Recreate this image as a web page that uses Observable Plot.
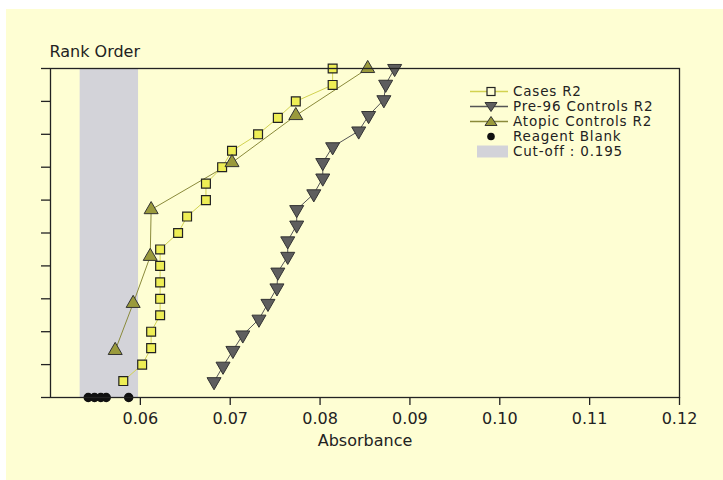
<!DOCTYPE html>
<html>
<head>
<meta charset="utf-8">
<script src="https://cdn.jsdelivr.net/npm/d3@7"></script>
<script src="https://cdn.jsdelivr.net/npm/@observablehq/plot@0.6"></script>
<style>
  html, body { margin: 0; padding: 0; background: #ffffff; }
  #wrap { position: absolute; left: 6px; top: 9px; width: 717px; height: 471px; background: #fefed3; }
  #legend { position: absolute; left: 0; top: 0; font-family: "DejaVu Sans", sans-serif; font-size: 13.5px; color: #222; letter-spacing: 0.8px; }
  .row { position: absolute; height: 15px; display: flex; align-items: center; white-space: nowrap; }
  .row svg { flex: none; display: block; }
  .row span { display: block; margin-left: 5px; height: 15px; line-height: 15px; overflow: visible; }
</style>
</head>
<body>
<div id="wrap"><div id="chart"></div><div id="legend"></div></div>
<script>
// ---- data ----
const casesX = [0.0581, 0.0602, 0.0612, 0.0612, 0.0622, 0.0622, 0.0622, 0.0622, 0.0622, 0.0642,
                0.0652, 0.0673, 0.0673, 0.0691, 0.0702, 0.0731, 0.0753, 0.0773, 0.0814, 0.0814];
const casesRank = [0.5, 1, 1.5, 2, 2.5, 3, 3.5, 4, 4.5, 5, 5.5, 6, 6.5, 7, 7.5, 8, 8.5, 9, 9.5, 10];

const pre96X = [0.0682, 0.0692, 0.0703, 0.0714, 0.0732, 0.0742, 0.0752, 0.0753, 0.0764, 0.0764,
                0.0774, 0.0774, 0.0793, 0.0803, 0.0803, 0.0814, 0.0843, 0.0854, 0.0871, 0.0873, 0.0883];
const pre96Rank = [0.48, 0.95, 1.43, 1.90, 2.38, 2.86, 3.33, 3.81, 4.29, 4.76,
                   5.24, 5.71, 6.19, 6.67, 7.14, 7.62, 8.10, 8.57, 9.05, 9.52, 10];

const atopicX = [0.0572, 0.0592, 0.0611, 0.0612, 0.0702, 0.0773, 0.0853];
const atopicRank = [1.43, 2.86, 4.29, 5.71, 7.14, 8.57, 10];

const blankX = [0.0542, 0.0549, 0.0556, 0.0562, 0.0587];
const blankRank = [0, 0, 0, 0, 0];

const cutoffRange = [0.0533, 0.0598];

const xTicks = [0.06, 0.07, 0.08, 0.09, 0.10, 0.11, 0.12];
const yTicks = [0, 1, 2, 3, 4, 5, 6, 7, 8, 9, 10];

const seriesNames = ["Cases R2", "Pre-96 Controls R2", "Atopic Controls R2", "Reagent Blank", "Cut-off : 0.195"];

// ---- styles ----
const bg = "#fefed3";
const ink = "#222222";
const casesFill = "#eeee55", casesLine = "#d2d250";
const preFill = "#5e5e5e", preLine = "#555555";
const atoFill = "#9a9a3c", atoLine = "#8a8a3a";
const bandFill = "#d3d3d9";
const font = '"DejaVu Sans", sans-serif';

const toRows = (xs, rs) => xs.map((x, i) => ({x, r: rs[i]}));
const cases = toRows(casesX, casesRank);
const pre96 = toRows(pre96X, pre96Rank);
const atopic = toRows(atopicX, atopicRank);
const blank = toRows(blankX, blankRank);

const plot = Plot.plot({
  width: 717,
  height: 471,
  marginLeft: 44,
  marginRight: 44,
  marginTop: 59,
  marginBottom: 83,
  x: {domain: [0.05, 0.12]},
  y: {domain: [0, 10]},
  style: {background: bg, color: ink, fontFamily: font, fontSize: "16px", overflow: "visible"},
  marks: [
    Plot.rect([cutoffRange], {x1: d => d[0], x2: d => d[1], fill: bandFill}),
    Plot.axisY({ticks: yTicks, tickSize: 9, tickFormat: () => "", label: null, stroke: ink, strokeWidth: 1.3}),
    Plot.axisX({ticks: xTicks, tickSize: 8, tickPadding: 7, tickFormat: d3.format(".2f"), label: null, stroke: ink, strokeWidth: 1.3, fontSize: 16, letterSpacing: 0.6}),
    Plot.line(cases, {x: "x", y: "r", stroke: casesLine, strokeWidth: 1}),
    Plot.line(atopic, {x: "x", y: "r", stroke: atoLine, strokeWidth: 1}),
    Plot.line(pre96, {x: "x", y: "r", stroke: preLine, strokeWidth: 1}),
    Plot.dot(cases, {x: "x", y: "r", symbol: "square", r: 5, fill: casesFill, stroke: ink, strokeWidth: 1.2}),
    Plot.dot(pre96, {x: "x", y: "r", symbol: "triangle", rotate: 180, r: 5.2, fill: preFill, stroke: "#333", strokeWidth: 1}),
    Plot.dot(atopic, {x: "x", y: "r", symbol: "triangle", r: 5.2, fill: atoFill, stroke: "#333", strokeWidth: 1}),
    Plot.dot(blank, {x: "x", y: "r", r: 4, fill: "#111", stroke: "#111"}),
    Plot.frame({stroke: ink, strokeWidth: 1.3}),
    Plot.text(["Rank Order"], {frameAnchor: "top-left", dx: -1, dy: -17, textAnchor: "start", lineAnchor: "middle", fontSize: 16, letterSpacing: 0, fill: ink}),
    Plot.text(["Absorbance"], {frameAnchor: "bottom", dy: 43, lineAnchor: "middle", fontSize: 16, letterSpacing: 0, fill: ink})
  ]
});
document.getElementById("chart").appendChild(plot);

// ---- legend (HTML, coordinates relative to #wrap) ----
const legend = document.getElementById("legend");
const legendLeft = 470 - 6, legendTop = 84 - 9, rowH = 15;
const swatch = (kind) => {
  const w = 38, h = 15, cx = 21, cy = 7.5;
  let s = `<svg width="${w}" height="${h}">`;
  if (kind === "cut") s += `<rect x="7" y="1.5" width="31" height="12" fill="${bandFill}"/>`;
  else if (kind === "blank") s += `<circle cx="${cx}" cy="${cy}" r="3.8" fill="#111"/>`;
  else {
    const lc = kind === "cases" ? casesLine : kind === "pre" ? preLine : atoLine;
    s += `<line x1="0" x2="${w}" y1="${cy}" y2="${cy}" stroke="${lc}" stroke-width="1.3"/>`;
    if (kind === "cases") s += `<rect x="${cx-4}" y="${cy-4}" width="8" height="8" fill="${bg}" stroke="${ink}" stroke-width="1.2"/>`;
    if (kind === "pre") s += `<path d="M${cx-6},${cy-4} L${cx+6},${cy-4} L${cx},${cy+5} Z" fill="${preFill}" stroke="#333"/>`;
    if (kind === "ato") s += `<path d="M${cx-6},${cy+4} L${cx+6},${cy+4} L${cx},${cy-5} Z" fill="${atoFill}" stroke="#333"/>`;
  }
  return s + "</svg>";
};
const kinds = ["cases", "pre", "ato", "blank", "cut"];
seriesNames.forEach((name, i) => {
  const row = document.createElement("div");
  row.className = "row";
  row.style.left = legendLeft + "px";
  row.style.top = (legendTop + i * rowH) + "px";
  row.innerHTML = swatch(kinds[i]) + `<span>${name}</span>`;
  legend.appendChild(row);
});
</script>
</body>
</html>
